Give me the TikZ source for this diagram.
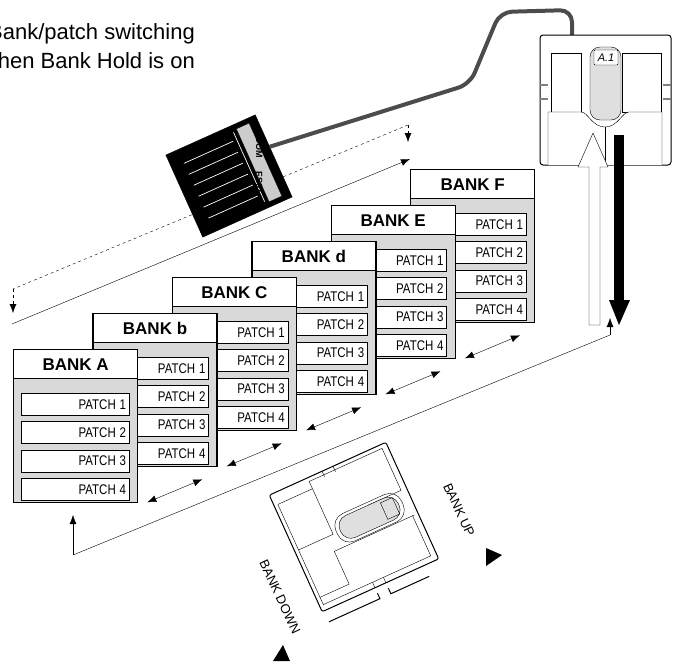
\documentclass[tikz,border=0pt]{standalone}
\usepackage{fontspec}
\setmainfont{Liberation Sans}
\usetikzlibrary{arrows.meta,positioning}
\begin{document}
\begin{tikzpicture}[x=1pt,y=-1pt,
  header/.style={draw,line width=1.3pt,fill=white,minimum width=124pt,minimum height=29pt,inner sep=0pt,font=\bfseries\fontsize{17}{17}\selectfont},
  body/.style={draw,line width=1.3pt,fill=gray!30,minimum width=124pt,minimum height=124pt,inner sep=0pt},
  patch/.style={draw,fill=white,minimum width=108pt,minimum height=22pt,inner sep=3pt,text width=102pt,align=right,font=\fontsize{14}{14}\selectfont},
  link/.style={{Latex[length=9pt,width=7pt]}-{Latex[length=9pt,width=7pt]}},
  tip/.style={-{Latex[length=9pt,width=7pt]}}]
\useasboundingbox (0,0) rectangle (679,664);

% caption
\node[anchor=base east,align=right,inner sep=0pt,font=\fontsize{22}{29}\selectfont] (note) at (195,68) {Bank/patch switching\\when Bank Hold is on};

% banks, back to front
\foreach \i/\name in {5/F,4/E,3/d,2/C,1/b,0/A}{
  \pgfmathsetmacro{\bx}{13+79.4*\i}
  \pgfmathsetmacro{\by}{349-36*\i}
  \node[body,anchor=north west] (bd\name) at (\bx,\by+29) {};
  \node[header,anchor=north west] (hd\name) at (\bx,\by) {BANK \name};
  \foreach \j in {1,...,4}
    \node[patch] (p\name\j) at (\bx+62,\by+27+\j*28.3) {\scalebox{0.82}[1]{PATCH \j}};
}

% steps between banks
\foreach \name in {A,b,C,d,E}{
  \draw[link] ([shift={(9,-1)}]bd\name.south east) -- ([shift={(64,-24)}]bd\name.south east);
}

% rising lines
\coordinate (lowL) at (12,324);
\coordinate (lowR) at (410,159);
\draw[tip] (lowL) -- (lowR);
\coordinate (dshL) at (13,289);
\coordinate (dshR) at (408,125);
\draw[dashed,tip] (dshR) -- ++(0,17);
\draw[dashed] (dshR) -- (dshL);
\draw[dashed,tip] (dshL) -- (13,313);

\coordinate (botL) at (73,555);
\coordinate (botR) at (610,335);
\draw[tip] (botL) -- (73,515);
\draw (botL) -- (botR);
\draw[tip] (botR) -- (610,318);

% FS01 footswitch
\begin{scope}[shift={(229,176)},rotate=24.2]
  \draw[fill=black] (-49,-45) rectangle (49,45);
  \foreach \k in {-30,-18,-6,6,18,30}
    \draw[white,line width=0.7pt] (-36,\k) -- (18,\k);
  \draw[white,line width=0.7pt] (22,-38) -- (22,38);
  \draw[fill=gray!40] (26,-40) rectangle (40,40);
  \node[rotate=-90,font=\bfseries\fontsize{9}{9}\selectfont] (fsl) at (33,0) {ZOOM\hspace{1.5em}FS01};
  \coordinate (plug) at (49,-10);
\end{scope}
\draw[line width=4pt,gray!60!black,rounded corners=12pt] (plug) -- (470,84) -- (500,12) -- (572,10) -- (572,36);

% top pedal
\draw[line width=1pt,fill=white,rounded corners=3pt] (540,35) rectangle (671,165);
\draw (551,53) rectangle (581,112);
\draw (622,53) rectangle (661,112);
\foreach \yy in {85,99}{\draw[gray,line width=1.5pt] (540,\yy) -- (548,\yy); \draw[gray,line width=1.5pt] (663,\yy) -- (671,\yy);}
\draw[fill=white] (548,165) -- (548,112) -- (581,112) .. controls (588,112) and (592,127) .. (605,127) .. controls (618,127) and (622,112) .. (629,112) -- (662,112) -- (662,165);
\draw (605,127) -- (605,165);
\draw[fill=gray!25,rounded corners=10pt] (590,47) rectangle (621,120);
\draw[fill=white,rounded corners=1pt] (594,50) rectangle (618,65);
\node[font=\fontsize{11}{11}\selectfont] (dsp) at (606,58) {\textit{A.1}};
\draw[fill=white] (589,325) -- (600,325) -- (600,167) -- (608,167) -- (593,133) -- (578,167) -- (589,167) -- cycle;
\draw[line width=10pt] (619,135) -- (619,302);
\fill (609,300) -- (630,300) -- (619,325) -- cycle;

% bottom pedal
\begin{scope}[shift={(354,527)},rotate=24.4]
  \draw[line width=1pt,fill=white,rounded corners=2pt] (-64,-64) rectangle (64,64);
  \draw (-60,-52) -- (-22,-52) -- (-22,-2) -- (-60,-2);
  \draw (-60,50) -- (-28,50) -- (-28,14) -- (60,14);
  \draw (-22,-52) -- (-22,-60) -- (58,-60) -- (58,-14) -- (22,-14);
  \draw (-60,-52) -- (-60,58) -- (58,58) -- (58,14);
  \draw[fill=gray!25,rounded corners=11pt] (-14,-14) rectangle (50,10);
  \draw[rounded corners=13pt] (-18,-17) rectangle (54,13);
  \draw (34,-11) rectangle (47,7);
  \foreach \s in {-6,6}{\draw (\s,-64) -- (\s,-58); \draw (\s,58) -- (\s,64);}
  \draw[line width=1pt] (-6,70) -- (-6,76) -- (-62,76);
  \draw[line width=1pt] (6,70) -- (6,76) -- (48,76);
\end{scope}
\node[rotate=-65,font=\fontsize{13}{13}\selectfont] (up) at (459,510) {BANK UP};
\node[rotate=-65,font=\fontsize{13}{13}\selectfont] (down) at (280,597) {BANK DOWN};
\fill (486,548) -- (486,566) -- (502,555) -- cycle;
\fill (273,661) -- (290,661) -- (283,645) -- cycle;
\end{tikzpicture}
\end{document}
